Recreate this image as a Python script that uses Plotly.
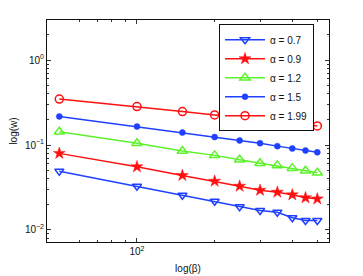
import plotly.graph_objects as go
import numpy as np

beta = [50, 100, 150, 200, 250, 300, 350, 400, 450, 500]
w_07 = [0.0492, 0.0327, 0.0256, 0.0217, 0.0187, 0.0169, 0.0161, 0.0139, 0.0129, 0.0129]
w_09 = [0.0797, 0.0554, 0.0438, 0.0375, 0.0327, 0.0293, 0.0278, 0.0259, 0.0239, 0.0232]
w_12 = [0.143, 0.105, 0.085, 0.0755, 0.067, 0.061, 0.0575, 0.0534, 0.0498, 0.0471]
w_15 = [0.217, 0.165, 0.140, 0.124, 0.113, 0.105, 0.097, 0.091, 0.086, 0.082]
w_199 = [0.348, 0.284, 0.248, 0.226, 0.211, 0.198, 0.189, 0.181, 0.174, 0.168]

names = ["α = 0.7", "α = 0.9", "α = 1.2", "α = 1.5", "α = 1.99"]
y_tickvals = [0.01, 0.1, 1]
y_ticktext = ["10<sup>−2</sup>", "10<sup>−1</sup>", "10<sup>0</sup>"]
x_tickvals = [100]
x_ticktext = ["10<sup>2</sup>"]

BLUE = "#2040ff"
RED = "#ff1010"
GREEN = "#5cf22a"

series = [
    (w_07, BLUE, dict(symbol="triangle-down-open", size=8, line=dict(width=1.5, color=BLUE))),
    (w_09, RED, dict(symbol="star", size=9, line=dict(width=0.5, color=RED))),
    (w_12, GREEN, dict(symbol="triangle-up-open", size=9, line=dict(width=1.5, color=GREEN))),
    (w_15, BLUE, dict(symbol="circle", size=6, line=dict(width=0.5, color=BLUE))),
    (w_199, RED, dict(symbol="circle-open", size=8, line=dict(width=1.5, color=RED))),
]

fig = go.Figure()
for (vals, col, mk), nm in zip(series, names):
    fig.add_trace(go.Scatter(x=beta, y=vals, mode="lines+markers", name=nm,
                             line=dict(color=col, width=1.5),
                             marker=dict(color=col, **mk)))

minor_common = dict(ticks="inside", ticklen=2, tickcolor="#333", showgrid=False)
fig.update_layout(
    width=355, height=268,
    margin=dict(l=39, r=34, t=12, b=34),
    paper_bgcolor="white", plot_bgcolor="white",
    font=dict(family="Liberation Sans, Arial, sans-serif", size=10, color="#111"),
    showlegend=True,
    legend=dict(x=0.61, y=0.981, xanchor="left", yanchor="top",
                bgcolor="white", bordercolor="#111", borderwidth=1,
                font=dict(size=10), itemwidth=40,
                entrywidth=64,
                traceorder="normal"),
    xaxis=dict(type="log", range=[np.log10(44.8), np.log10(555)], automargin=False,
               tickvals=x_tickvals, ticktext=x_ticktext,
               ticks="inside", ticklen=4, tickcolor="#333",
               showline=True, linecolor="#111", linewidth=1, mirror="ticks",
               showgrid=False, zeroline=False,
               minor=dict(tickvals=[60, 70, 80, 90, 200, 300, 400, 500], **minor_common),
               title=dict(text="log(β)", standoff=8, font=dict(size=10))),
    yaxis=dict(type="log", range=[np.log10(0.0072), np.log10(2.97)], automargin=False,
               tickvals=y_tickvals, ticktext=y_ticktext,
               ticks="inside", ticklen=4, tickcolor="#333",
               showline=True, linecolor="#111", linewidth=1, mirror="ticks",
               showgrid=False, zeroline=False,
               minor=dict(tickvals=[0.008, 0.009, 0.02, 0.03, 0.04, 0.05, 0.06, 0.07, 0.08, 0.09,
                                    0.2, 0.3, 0.4, 0.5, 0.6, 0.7, 0.8, 0.9, 2], **minor_common),
               title=dict(text="log(w)", standoff=6, font=dict(size=10))),
)
fig.write_html("out.html")
